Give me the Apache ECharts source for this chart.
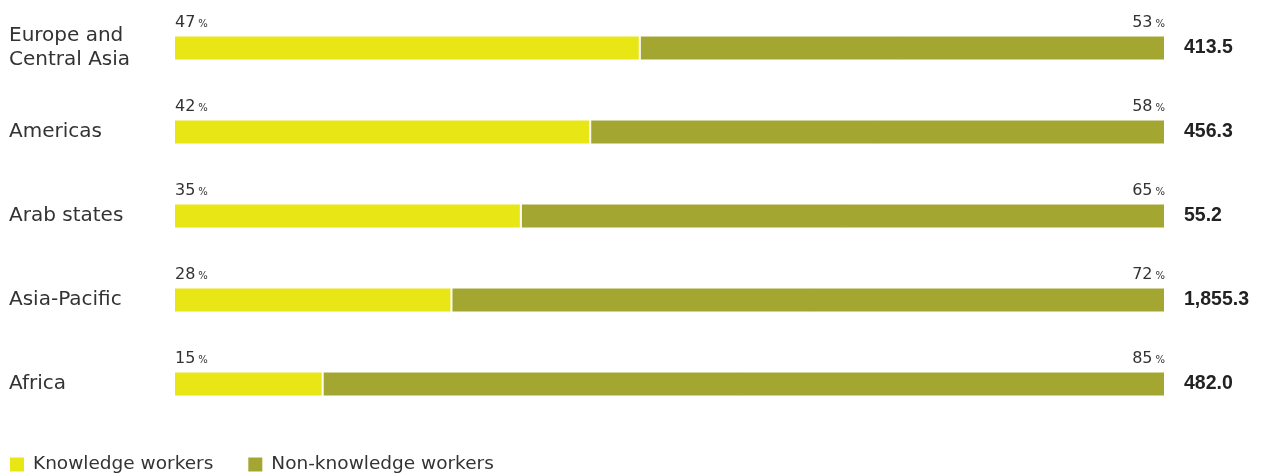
<!DOCTYPE html>
<html><head><meta charset="utf-8">
<script src="https://cdn.jsdelivr.net/npm/echarts@6/dist/echarts.min.js"></script>
<style>html,body{margin:0;padding:0;background:#fff}#c{width:1267px;height:476px}</style>
</head><body><div id="c"></div>
<script>
const regions = ["Europe and\nCentral Asia", "Americas", "Arab states", "Asia-Pacific", "Africa"];
const knowledge = [47, 42, 35, 28, 15];
const nonKnowledge = [53, 58, 65, 72, 85];
const totals = ["413.5", "456.3", "55.2", "1,855.3", "482.0"];
const seriesNames = ["Knowledge workers", "Non-knowledge workers"];

const FONT = "DejaVu Sans";
const chart = echarts.init(document.getElementById('c'));
const pctRich = {
  n: {fontFamily: FONT, fontSize: 16, color: '#333'},
  p: {fontFamily: FONT, fontSize: 10, color: '#333', padding: [3, 0, 0, 3]}
};
chart.setOption({
  animation: false,
  textStyle: {fontFamily: FONT},
  grid: {left: 174, right: 102, top: 6, bottom: 50},
  legend: {
    left: 8, bottom: 2, padding: 0, icon: 'rect', itemWidth: 16, itemHeight: 16, itemGap: 33,
    textStyle: {fontFamily: FONT, fontSize: 18.5, color: '#333', padding: [0, 0, 0, 3]},
    data: seriesNames
  },
  xAxis: {type: 'value', min: 0, max: 100, show: false},
  yAxis: [{
    type: 'category', data: regions, inverse: true,
    axisLine: {show: false}, axisTick: {show: false},
    axisLabel: {align: 'left', margin: 165, fontFamily: FONT, fontSize: 20, color: '#333', lineHeight: 24}
  }, {
    type: 'category', data: totals, inverse: true, position: 'right',
    axisLine: {show: false}, axisTick: {show: false},
    axisLabel: {align: 'left', margin: 19, fontFamily: 'Liberation Sans', fontWeight: 'bold', fontSize: 19.5, color: '#222'}
  }],
  series: [{
    name: seriesNames[0], type: 'bar', stack: 's', data: knowledge, barWidth: 25,
    itemStyle: {color: '#E8E614', borderColor: '#fff', borderWidth: 1},
    label: {show: true, position: [1, -5], align: 'left', verticalAlign: 'bottom',
      formatter: p => '{n|' + p.value + '}{p|%}', rich: pctRich}
  }, {
    name: seriesNames[1], type: 'bar', stack: 's', data: nonKnowledge, barWidth: 25,
    itemStyle: {color: '#A3A630', borderColor: '#fff', borderWidth: 1},
    label: {show: true, position: ['100%', -5], align: 'right', verticalAlign: 'bottom',
      formatter: p => '{n|' + p.value + '}{p|%}', rich: pctRich}
  }]
});
</script></body></html>
